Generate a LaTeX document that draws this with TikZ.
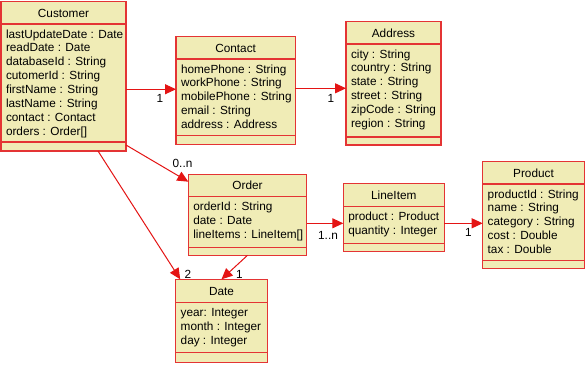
\documentclass[tikz,border=0pt]{standalone}
\usepackage{fontspec}
\setmainfont{Liberation Sans}
\usetikzlibrary{arrows.meta}
\definecolor{classfill}{RGB}{240,236,182}
\definecolor{classred}{RGB}{228,52,52}
\definecolor{linkred}{RGB}{228,20,20}
\tikzset{
  classbox/.style={draw=classred, fill=classfill, line width=1.1pt, inner sep=0pt, outer sep=0pt},
  classline/.style={draw=classred, line width=1.1pt},
  txt/.style={inner sep=0pt, outer sep=0pt, font=\fontsize{11.8}{13.9}\selectfont, text=black},
  assoc/.style={draw=linkred, line width=1pt, -{Triangle[length=11pt,width=10pt]}},
  mult/.style={txt}
}
\newcommand\umlclass[9]{%
  \node[classbox, anchor=north west, minimum width={#4-#2}, minimum height={#5-#3}] (#1) at (#2,#3) {};
  \draw[classline] (#2,#6) -- (#4,#6);
  \draw[classline] (#2,#7) -- (#4,#7);
  \node[txt, anchor=base] (#1-title) at ({(#2+#4)/2},{(#3+#6)/2+4.3}) {#8};
  \foreach \t [count=\i] in {#9}
    \node[txt, anchor=base west] (#1-a\i) at ({#2+5},{#6+14+13.9*(\i-1)}) {\t};
}
\begin{document}
\begin{tikzpicture}[x=1pt,y=-1pt]
\path[use as bounding box, fill=white] (0,0) rectangle (586,364);

\umlclass{customer}{1}{1.7}{126}{151}{24}{142}{Customer}{lastUpdateDate : Date,readDate : Date,databaseId : String,cutomerId : String,firstName : String,lastName : String,contact : Contact,orders : Order[]}
\umlclass{contact}{176}{36.7}{295.3}{144.3}{59}{135.7}{Contact}{homePhone : String,workPhone : String,mobilePhone : String,email : String,address : Address}
\umlclass{address}{346}{21.7}{441}{145}{44}{137}{Address}{city : String,country : String,state : String,street : String,zipCode : String,region : String}
\umlclass{order}{188.3}{174.3}{306.7}{255.3}{196.7}{247.3}{Order}{orderId : String,date : Date,lineItems : LineItem[]}
\umlclass{date}{175.7}{279.3}{267.3}{362.3}{302.3}{352.7}{Date}{year: Integer,month : Integer,day : Integer}
\umlclass{lineitem}{343.3}{183.7}{444.3}{251.3}{206.7}{243.7}{LineItem}{product : Product,quantity : Integer}
\umlclass{product}{482.7}{161.7}{584.3}{268.7}{184}{260.3}{Product}{productId : String,name : String,category : String,cost : Double,tax : Double}

% connectors
\draw[assoc] ([yshift=-12.9pt]customer.east) -- ([yshift=-12.9pt]customer.east -| contact.west);
\draw[assoc] ([yshift=2.2pt]contact.east) -- ([yshift=2.2pt]contact.east -| address.west);
\draw[assoc] ([yshift=6pt]customer.south east) -- ([yshift=-7.4pt]order.north west);
\draw[assoc] ([xshift=34.5pt]customer.south) -- ([xshift=4.5pt]date.north west);
\draw[assoc] (order.south) -- (date.north);
\draw[assoc] ([yshift=-8.5pt]order.east) -- ([yshift=-8.5pt]order.east -| lineitem.west);
\draw[assoc] ([yshift=-5.8pt]lineitem.east) -- ([yshift=-5.8pt]lineitem.east -| product.west);

% multiplicities
\node[mult] (m1) at (160,98.7) {1};
\node[mult] (m2) at (331,98.3) {1};
\node[mult] (m3) at (182.5,163.3) {0..n};
\node[mult] (m4) at (188,274.3) {2};
\node[mult] (m5) at (239.3,274.3) {1};
\node[mult] (m6) at (328,235.7) {1..n};
\node[mult] (m7) at (468.3,232.3) {1};
\end{tikzpicture}
\end{document}
